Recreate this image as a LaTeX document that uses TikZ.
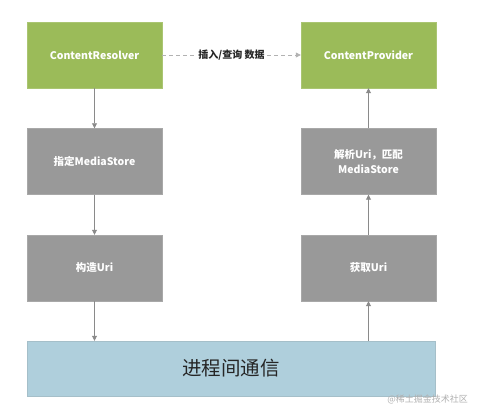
\documentclass[tikz,border=0pt]{standalone}
\usepackage{fontspec}
\setmainfont{Noto Sans CJK SC}
\usetikzlibrary{arrows.meta}
\definecolor{boxgreen}{HTML}{9BBB59}
\definecolor{boxgray}{HTML}{999999}
\definecolor{boxblue}{HTML}{AFCFDC}
\definecolor{linegray}{HTML}{8A8A8A}
\definecolor{wmgray}{HTML}{B0B0B0}
\begin{document}
\begin{tikzpicture}[x=1pt,y=-1pt,
  box/.style={minimum width=135pt,minimum height=66pt,inner sep=0pt,align=center,text=white,font=\fontsize{10.5}{15}\selectfont\bfseries},
  greenbox/.style={box,fill=boxgreen,draw=boxgreen!85!white},
  graybox/.style={box,fill=boxgray,draw=boxgray!85!white},
  conn/.style={draw=linegray,line width=0.8pt,-{Triangle[width=5pt,length=5pt]}}
]
\useasboundingbox (0,0) rectangle (480,417);
\node[greenbox] (cr) at (94.5,55) {ContentResolver};
\node[greenbox] (cp) at (368.5,55) {ContentProvider};
\node[graybox] (ms) at (94.5,161.5) {指定MediaStore};
\node[graybox] (pa) at (368.5,161.5) {解析Uri，匹配\\MediaStore};
\node[graybox] (bu) at (94.5,268) {构造Uri};
\node[graybox] (gu) at (368.5,268) {获取Uri};
\node[minimum width=408pt,minimum height=55pt,inner sep=0pt,fill=boxblue,draw=boxblue!80!gray,text=black!85,font=\fontsize{19.5}{22}\selectfont] (ipc) at (231,368.5) {进程间通信};
\node[text=wmgray,font=\fontsize{9}{11}\selectfont,anchor=east,inner sep=0pt] (wm) at (468,399) {@稀土掘金技术社区};
\draw[conn] (cr) -- (ms);
\draw[conn] (ms) -- (bu);
\draw[conn] (bu.south) -- (bu.south |- ipc.north);
\draw[conn] (gu.south |- ipc.north) -- (gu.south);
\draw[conn] (gu) -- (pa);
\draw[conn] (pa) -- (cp);
\draw[conn,draw=black!30,dashed,dash pattern=on 4pt off 3pt] (cr) -- node[fill=white,text=black!85,inner sep=2pt,font=\fontsize{10}{12}\selectfont\bfseries] (lbl) {插入/查询 数据} (cp);
\end{tikzpicture}
\end{document}
